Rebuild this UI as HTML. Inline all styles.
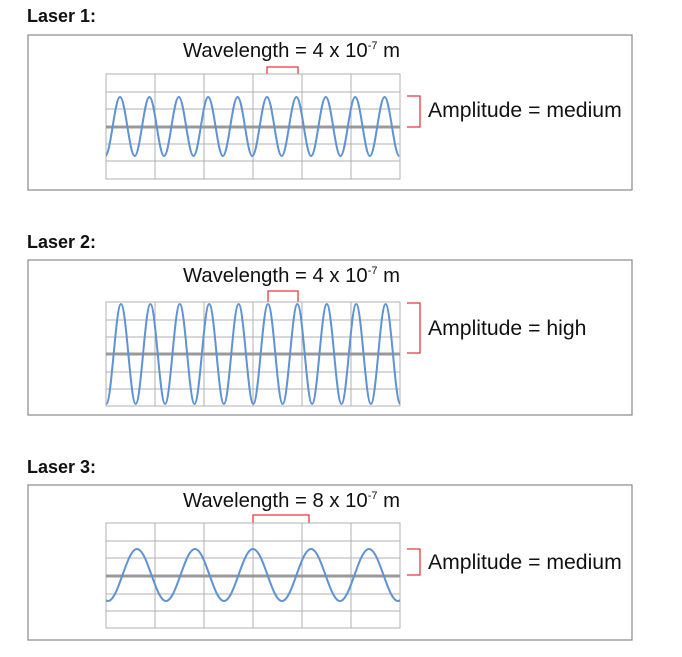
<!DOCTYPE html>
<html><head><meta charset="utf-8"><style>
html,body{margin:0;padding:0;background:#fff;width:682px;height:657px;overflow:hidden}
svg{display:block}
text{font-family:"Liberation Sans",sans-serif;fill:#111}
.t{font-size:18px;font-weight:bold}
.l{font-size:20.3px}
.a{font-size:21.2px}
.g{stroke:#b0b0b0;stroke-width:1;fill:none}
.c{stroke:#999;stroke-width:3}
.w{stroke:#5f93d3;stroke-width:2;fill:none}
.r{stroke:#e8383d;stroke-width:1.3;fill:none}
.b{stroke:#888;stroke-width:1.2;fill:none}
</style></head><body>
<svg width="682" height="657" viewBox="0 0 682 657">
<defs>
<clipPath id="k1"><rect x="106" y="70" width="294" height="115"/></clipPath>
<clipPath id="k2"><rect x="106" y="295" width="294" height="115"/></clipPath>
<clipPath id="k3"><rect x="106" y="520" width="294" height="115"/></clipPath>
</defs>

<!-- Laser 1 -->
<text class="t" x="27" y="22">Laser 1:</text>
<rect class="b" x="28" y="35" width="604" height="155"/>
<text class="l" x="183" y="57">Wavelength = 4 x 10<tspan font-size="11" dy="-8">-7</tspan><tspan dy="8"> m</tspan></text>
<path class="r" d="M267 74V67H298V74"/>
<g class="g">
<rect x="106" y="74" width="294" height="105"/>
<path d="M106 92H400M106 109H400M106 144H400M106 161H400M155 74V179M204 74V179M253 74V179M302 74V179M351 74V179"/>
</g>
<path class="c" d="M106 127H400"/>
<path class="w" clip-path="url(#k1)" d="M105.3 156 c5.35 0 9.35 -59 14.7 -59 c5.35 0 9.35 59 14.7 59 c5.35 0 9.35 -59 14.7 -59 c5.35 0 9.35 59 14.7 59 c5.35 0 9.35 -59 14.7 -59 c5.35 0 9.35 59 14.7 59 c5.35 0 9.35 -59 14.7 -59 c5.35 0 9.35 59 14.7 59 c5.35 0 9.35 -59 14.7 -59 c5.35 0 9.35 59 14.7 59 c5.35 0 9.35 -59 14.7 -59 c5.35 0 9.35 59 14.7 59 c5.35 0 9.35 -59 14.7 -59 c5.35 0 9.35 59 14.7 59 c5.35 0 9.35 -59 14.7 -59 c5.35 0 9.35 59 14.7 59 c5.35 0 9.35 -59 14.7 -59 c5.35 0 9.35 59 14.7 59 c5.35 0 9.35 -59 14.7 -59 c5.35 0 9.35 59 14.7 59"/>
<path class="r" d="M407 96H420V127H407"/>
<text class="a" x="428" y="117">Amplitude = medium</text>

<!-- Laser 2 -->
<text class="t" x="27" y="248">Laser 2:</text>
<rect class="b" x="28" y="260" width="604" height="155"/>
<text class="l" x="183" y="282">Wavelength = 4 x 10<tspan font-size="11" dy="-8">-7</tspan><tspan dy="8"> m</tspan></text>
<path class="r" d="M268 302V291H298V302"/>
<g class="g">
<rect x="106" y="302" width="294" height="104"/>
<path d="M106 320H400M106 337H400M106 372H400M106 389H400M155 302V406M204 302V406M253 302V406M302 302V406M351 302V406"/>
</g>
<path class="c" d="M106 354H400"/>
<path class="w" clip-path="url(#k2)" d="M106.3 404 c5.35 0 9.35 -100 14.7 -100 c5.35 0 9.35 100 14.7 100 c5.35 0 9.35 -100 14.7 -100 c5.35 0 9.35 100 14.7 100 c5.35 0 9.35 -100 14.7 -100 c5.35 0 9.35 100 14.7 100 c5.35 0 9.35 -100 14.7 -100 c5.35 0 9.35 100 14.7 100 c5.35 0 9.35 -100 14.7 -100 c5.35 0 9.35 100 14.7 100 c5.35 0 9.35 -100 14.7 -100 c5.35 0 9.35 100 14.7 100 c5.35 0 9.35 -100 14.7 -100 c5.35 0 9.35 100 14.7 100 c5.35 0 9.35 -100 14.7 -100 c5.35 0 9.35 100 14.7 100 c5.35 0 9.35 -100 14.7 -100 c5.35 0 9.35 100 14.7 100 c5.35 0 9.35 -100 14.7 -100 c5.35 0 9.35 100 14.7 100"/>
<path class="r" d="M407 303H420V353H407"/>
<text class="a" x="428" y="335">Amplitude = high</text>

<!-- Laser 3 -->
<text class="t" x="27" y="473">Laser 3:</text>
<rect class="b" x="28" y="485" width="604" height="155"/>
<text class="l" x="183" y="507">Wavelength = 8 x 10<tspan font-size="11" dy="-8">-7</tspan><tspan dy="8"> m</tspan></text>
<path class="r" d="M253 523V515H309V523"/>
<g class="g">
<rect x="106" y="523" width="294" height="105"/>
<path d="M106 541H400M106 558H400M106 594H400M106 611H400M155 523V628M204 523V628M253 523V628M302 523V628M351 523V628"/>
</g>
<path class="c" d="M106 576H400"/>
<path class="w" clip-path="url(#k3)" d="M79 549 c10.56 0 18.44 52 29 52 c10.56 0 18.44 -52 29 -52 c10.56 0 18.44 52 29 52 c10.56 0 18.44 -52 29 -52 c10.56 0 18.44 52 29 52 c10.56 0 18.44 -52 29 -52 c10.56 0 18.44 52 29 52 c10.56 0 18.44 -52 29 -52 c10.56 0 18.44 52 29 52 c10.56 0 18.44 -52 29 -52 c10.56 0 18.44 52 29 52 c10.56 0 18.44 -52 29 -52"/>
<path class="r" d="M407 549H420V575H407"/>
<text class="a" x="428" y="569">Amplitude = medium</text>
</svg>
</body></html>
